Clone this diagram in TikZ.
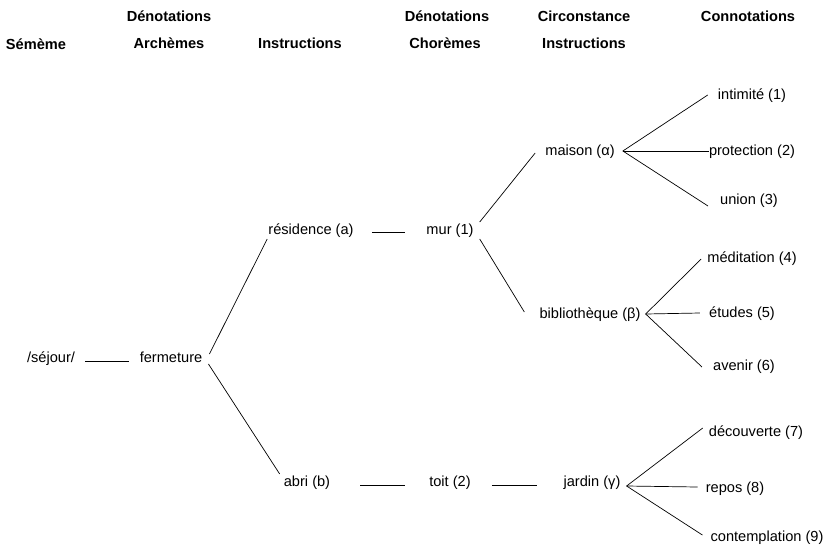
\documentclass[tikz,border=0pt]{standalone}
\usepackage{fontspec}
\setmainfont{Liberation Sans}
\usetikzlibrary{positioning}
\tikzset{
  word/.style = {inner sep=0pt, text height=11pt, text depth=3pt, font=\fontsize{14.6}{17}\selectfont},
  head/.style = {inner sep=0pt, font=\fontsize{14.6}{17}\selectfont\bfseries},
  link/.style = {draw, line width=0.7pt},
}

\begin{document}
\begin{tikzpicture}[x=1pt, y=-1pt]
      \useasboundingbox (0,0) rectangle (826,549);
      % headings
      \node[head] (hsem)  at (36,44)  {Sémème};
      \node[head] (hden)  at (169,16) {Dénotations};
      \node[head] (harc)  at (169,43) {Archèmes};
      \node[head] (hins)  at (300,43) {Instructions};
      \node[head] (hdenb) at (447,16) {Dénotations};
      \node[head] (hcho)  at (445,43) {Chorèmes};
      \node[head] (hcir)  at (584,16) {Circonstance};
      \node[head] (hinsb) at (584,43) {Instructions};
      \node[head] (hcon)  at (748,16) {Connotations};
      % tree
      \node[word] (sejour)       at (51,358)  {/séjour/};
      \node[word] (fermeture)    at (171,358) {fermeture};
      \node[word] (residence)    at (311,230) {résidence (a)};
      \node[word] (abri)         at (307,482) {abri (b)};
      \node[word] (mur)          at (450,230) {mur (1)};
      \node[word] (toit)         at (450,482) {toit (2)};
      \node[word] (maison)       at (580,151) {maison (α)};
      \node[word] (bibliotheque) at (590,314) {bibliothèque (β)};
      \node[word] (jardin)       at (592,482) {jardin (γ)};
      \node[word] (intimite)     at (752,95)  {intimité (1)};
      \node[word] (protection)   at (752,151) {protection (2)};
      \node[word] (union)        at (749,200) {union (3)};
      \node[word] (meditation)   at (752,258) {méditation (4)};
      \node[word] (etudes)       at (742,313) {études (5)};
      \node[word] (avenir)       at (744,366) {avenir (6)};
      \node[word] (decouverte)   at (756,432) {découverte (7)};
      \node[word] (repos)        at (735,488) {repos (8)};
      \node[word] (contemplation) at (767,537) {contemplation (9)};
      % connectors
      \draw[link, shorten <=10pt, shorten >=11pt] ([yshift=1pt]sejour.base east) -- ([yshift=1pt]fermeture.base west);
      \draw[link] ([xshift=7pt,yshift=4pt]fermeture.east) -- ([xshift=-1pt,yshift=-9pt]residence.west);
      \draw[link] ([xshift=6pt,yshift=-6pt]fermeture.east) -- ([xshift=-4pt,yshift=8pt]abri.west);
      \draw[link, shorten <=18pt, shorten >=21pt] ([yshift=2pt]residence.base east) -- ([yshift=2pt]mur.base west);
      \draw[link] ([xshift=6pt,yshift=8pt]mur.east) -- ([xshift=-10pt,yshift=-2pt]maison.west);
      \draw[link] ([xshift=6pt,yshift=-9pt]mur.east) -- ([xshift=-15pt,yshift=2pt]bibliotheque.west);
      \draw[link, shorten <=30pt, shorten >=24pt] ([yshift=1pt]abri.base east) -- ([yshift=1pt]toit.base west);
      \draw[link, shorten <=21pt, shorten >=26pt] ([yshift=1pt]toit.base east) -- ([yshift=1pt]jardin.base west);
      \foreach \n/\g/\d in {intimite/10pt/0pt, protection/0pt/0pt, union/12pt/-6pt}
        \draw[link] ([xshift=8pt]maison.east) -- ([xshift=-\g,yshift=\d]\n.west);
      \foreach \n/\g/\d in {meditation/6pt/-1pt, etudes/9pt/0pt, avenir/11pt/-1pt}
        \draw[link] ([xshift=5pt]bibliotheque.east) -- ([xshift=-\g,yshift=\d]\n.west);
      \foreach \n/\g/\d in {decouverte/6pt/4pt, repos/8pt/1pt, contemplation/8pt/2pt}
        \draw[link] ([xshift=6pt,yshift=-4pt]jardin.east) -- ([xshift=-\g,yshift=\d]\n.west);
\end{tikzpicture}
\end{document}
